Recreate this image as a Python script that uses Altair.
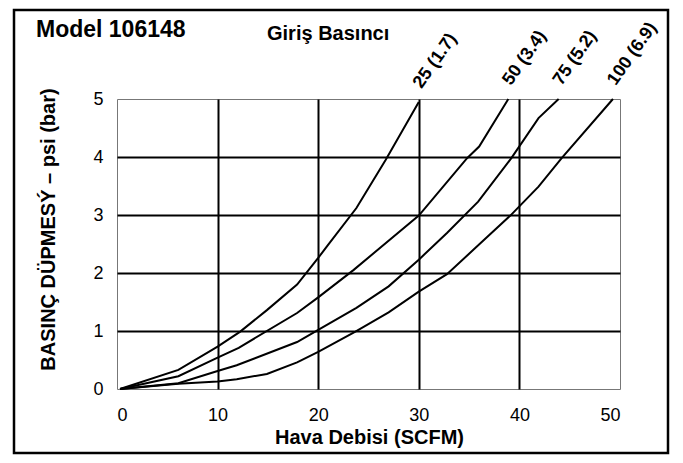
import altair as alt
import pandas as pd

# ---- data ----
series_names = ["25 (1.7)", "50 (3.4)", "75 (5.2)", "100 (6.9)"]

x_25 = [0.3, 6.1, 10, 12.25, 14.9, 17.9, 20, 21, 23.8, 26.7, 30]
y_25 = [0, 0.33, 0.73, 0.99, 1.36, 1.8, 2.26, 2.49, 3.12, 3.95, 4.95]

x_50 = [0.3, 6.1, 10, 12.1, 17.9, 20, 23.5, 30, 34.8, 36, 38.9]
y_50 = [0, 0.22, 0.54, 0.71, 1.31, 1.58, 2.05, 2.99, 3.98, 4.18, 5.0]

x_75 = [0.3, 6.1, 10, 11.9, 17.9, 20, 23.8, 27, 30, 32.8, 35.9, 39.2, 41.9, 43.9]
y_75 = [0, 0.1, 0.31, 0.41, 0.81, 1.02, 1.4, 1.77, 2.23, 2.69, 3.23, 3.98, 4.67, 5.0]

x_100 = [0.3, 6.1, 10, 11.9, 14.9, 17.9, 20, 23.7, 27, 30, 32.8, 35.8, 39.1, 41.9, 44.2, 49.3]
y_100 = [0, 0.09, 0.13, 0.17, 0.26, 0.46, 0.64, 0.99, 1.32, 1.68, 1.98, 2.46, 2.99, 3.49, 3.98, 5.0]

x_ticks = [0, 10, 20, 30, 40, 50]
y_ticks = [0, 1, 2, 3, 4, 5]

title_text = "Model 106148"
legend_title = "Giriş Basıncı"
x_title = "Hava Debisi (SCFM)"
y_title = "BASINÇ DÜPMESÝ – psi (bar)"

# ---- build tables ----
rows = []
for name, xs, ys in zip(series_names, [x_25, x_50, x_75, x_100], [y_25, y_50, y_75, y_100]):
    for i, (xv, yv) in enumerate(zip(xs, ys)):
        rows.append({"series": name, "x": xv, "y": yv, "i": i})
df = pd.DataFrame(rows)
ends = df.loc[df.groupby("series")["i"].idxmax()].reset_index(drop=True)

FONT = "Liberation Sans"

xscale = alt.Scale(domain=[0, 50], nice=False, zero=True)
yscale = alt.Scale(domain=[0, 5], nice=False, zero=True)

edge_test_x = "datum.value == 0 || datum.value == 50"
edge_test_y = "datum.value == 0 || datum.value == 5"

x_enc = alt.X(
    "x:Q", scale=xscale,
    axis=alt.Axis(
        values=x_ticks, title=x_title, grid=True, format="d",
        gridColor={"condition": {"test": edge_test_x, "value": "transparent"}, "value": "black"},
        gridWidth=2, ticks=False, domain=False,
        labelFontSize=18, labelPadding=17, labelColor="black", labelFont=FONT,
        titleFont=FONT, titleFontSize=20, titleFontWeight="bold", titleColor="black",
        titleBaseline="alphabetic", titleY=54, titleX=252, titleAlign="center",
    ),
)
y_enc = alt.Y(
    "y:Q", scale=yscale,
    axis=alt.Axis(
        values=y_ticks, title=y_title, grid=True, format="d",
        gridColor={"condition": {"test": edge_test_y, "value": "transparent"}, "value": "black"},
        gridWidth=2, ticks=False, domain=False,
        labelFontSize=18, labelPadding=14, labelColor="black", labelFont=FONT,
        titleFont=FONT, titleFontSize=20, titleFontWeight="bold", titleColor="black",
        titleAngle=270, titleBaseline="alphabetic", titleX=-63, titleY=130, titleAlign="center",
    ),
)

lines = alt.Chart(df).mark_line(color="black", strokeWidth=2).encode(
    x=x_enc, y=y_enc, detail="series:N", order="i:Q"
)

labels = alt.Chart(ends).mark_text(
    font=FONT, fontSize=18, fontWeight="bold", color="black",
    angle=305, align="left", baseline="alphabetic", dx=12, dy=-5,
).encode(
    x=alt.X("x:Q", scale=xscale), y=alt.Y("y:Q", scale=yscale), text="series:N"
)

one = pd.DataFrame({"a": [0]})

title_mark = alt.Chart(one).mark_text(
    text=title_text, font=FONT, fontSize=23, fontWeight="bold", color="black",
    align="left", baseline="alphabetic",
).encode(x=alt.value(-81), y=alt.value(-62))

legend_mark = alt.Chart(one).mark_text(
    text=legend_title, font=FONT, fontSize=20, fontWeight="bold", color="black",
    align="left", baseline="alphabetic",
).encode(x=alt.value(150), y=alt.value(-59))

border = alt.Chart(one).mark_rect(
    fillOpacity=0, stroke="black", strokeWidth=2.5
).encode(x=alt.value(-103), x2=alt.value(551), y=alt.value(-89), y2=alt.value(354))

chart = alt.layer(border, lines, labels, title_mark, legend_mark).properties(
    width=503, height=290,
    autosize=alt.AutoSizeParams(type="none"),
    padding={"left": 109, "top": 91, "right": 55, "bottom": 66},
    background="white",
).configure_view(stroke="#777", strokeWidth=1)

chart.save("out.html", embed_options={"renderer": "svg", "actions": False})
